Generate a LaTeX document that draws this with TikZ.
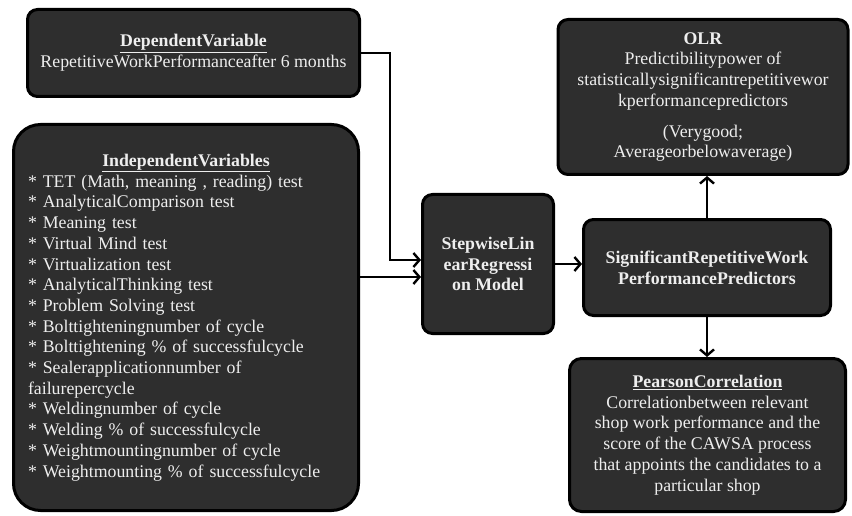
\documentclass[tikz,border=0pt]{standalone}
\usepackage{fontspec}
\setmainfont{Liberation Serif}
\usetikzlibrary{arrows.meta}
\definecolor{boxfill}{HTML}{2E2E2E}
\definecolor{boxtext}{HTML}{EEEEEE}

\begin{document}
\begin{tikzpicture}[x=1pt,y=-1pt,->,>={Straight Barb[length=6pt,width=14pt]},line width=2.4pt,
                    main node/.style={rectangle,draw=black,line width=3pt,fill=boxfill,text=boxtext,
                      rounded corners=10pt,align=center,inner sep=0pt,font=\fontsize{17.8}{20.7}\selectfont},
                    bold node/.style={main node,font=\fontsize{17.8}{20.7}\selectfont\bfseries}]
\useasboundingbox (0,0) rectangle (852,516);

  \node[main node,minimum width=332pt,minimum height=87pt] (dep) at (193.5,53)
    {\underline{\textbf{DependentVariable}}\\RepetitiveWorkPerformanceafter 6 months};

  \node[main node,rounded corners=27pt,minimum width=345pt,minimum height=386pt,
        text width=316pt,align=left] (indep) at (186,317.5)
    {\makebox[316pt]{\underline{\textbf{IndependentVariables}}}\\
     {*} TET (Math, meaning , reading) test\\
     {*} AnalyticalComparison test\\
     {*} Meaning test\\
     {*} Virtual Mind test\\
     {*} Virtualization test\\
     {*} AnalyticalThinking test\\
     {*} Problem Solving test\\
     {*} Bolttighteningnumber of cycle\\
     {*} Bolttightening \% of successfulcycle\\
     {*} Sealerapplicationnumber of\\
     failurepercycle\\
     {*} Weldingnumber of cycle\\
     {*} Welding \% of successfulcycle\\
     {*} Weightmountingnumber of cycle\\
     {*} Weightmounting \% of successfulcycle};

  \node[bold node,minimum width=131pt,minimum height=139pt] (slr) at (488,264)
    {StepwiseLin\\earRegressi\\on Model};

  \node[bold node,minimum width=247pt,minimum height=96pt] (sig) at (707,267.5)
    {SignificantRepetitiveWork\\PerformancePredictors};

  \node[main node,minimum width=290pt,minimum height=155pt] (olr) at (703,97)
    {\textbf{OLR}\\Predictibilitypower of\\statisticallysignificantrepetitivewor\\
     kperformancepredictors\\[10pt](Verygood;\\Averageorbelowaverage)};

  \node[main node,rounded corners=12pt,minimum width=276pt,minimum height=153pt] (pc) at (707.5,435)
    {\underline{\textbf{PearsonCorrelation}}\\Correlationbetween relevant\\shop work performance and the\\
     score of the CAWSA process\\that appoints the candidates to a\\particular shop};

  % the two inputs of the regression model
  \coordinate (elbow) at (390,260);
  \coordinate (inarrow) at ([yshift=-13pt]slr.west);
  \draw (dep.east) -| (elbow) -- (elbow -| slr.west);
  \draw (inarrow -| indep.east) -- (inarrow);

  \path
    (slr.east) edge (slr.east -| sig.west)
    (sig.north) edge (sig.north |- olr.south)
    (sig.south) edge (sig.south |- pc.north)
;
\end{tikzpicture}
\end{document}
